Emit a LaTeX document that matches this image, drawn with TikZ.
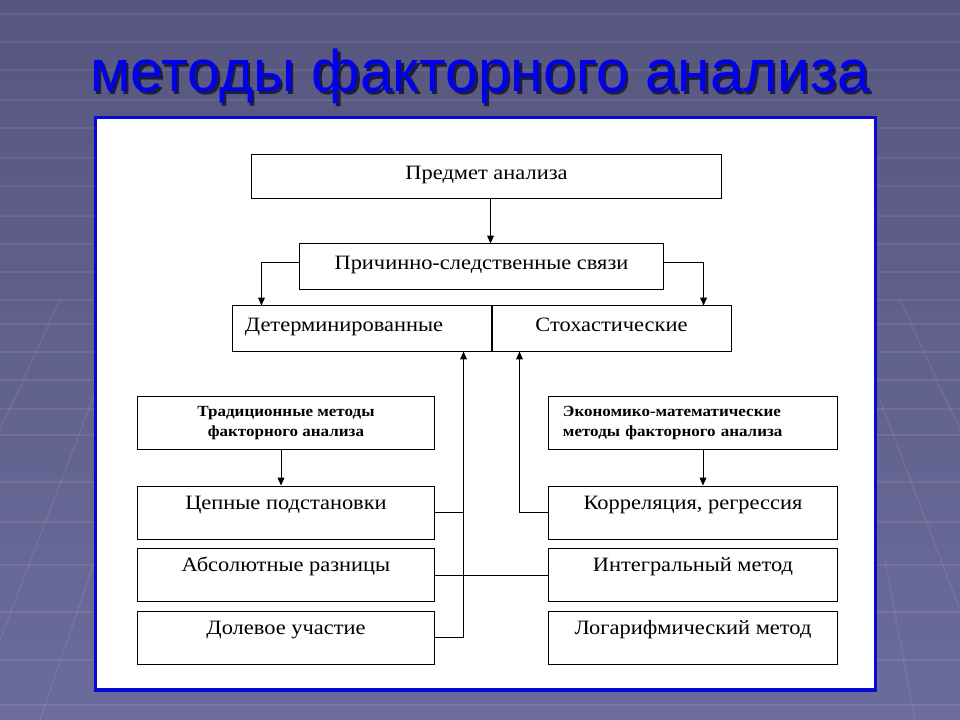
\documentclass[tikz,border=0pt]{standalone}
\usepackage{fontspec}
\setmainfont{Liberation Serif}
\newfontfamily\boxfont[FakeStretch=1.1]{Liberation Serif}
\newfontfamily\titlefont{Liberation Sans}
\usetikzlibrary{arrows.meta}

\definecolor{bgtop}{RGB}{86,86,126}
\definecolor{bgbot}{RGB}{108,108,156}
\definecolor{panelblue}{RGB}{8,8,215}
\definecolor{titleblue}{RGB}{0,0,238}
\definecolor{titleshade}{RGB}{28,28,60}

\begin{document}
\begin{tikzpicture}[x=0.025cm,y=-0.025cm,
    >={Triangle[length=5.6pt,width=4.8pt]}]

% slide background
\shade[top color=bgtop, bottom color=bgbot] (0,0) rectangle (960,720);
\useasboundingbox (0,0) rectangle (960,720);
\begin{scope}[white, opacity=0.08, line width=1pt]
    \foreach \y in {14,42,70,100,128,158,186,216,244,272,300,324,352,380,409,435,482,522,565,612,660,705}
        \draw (0,\y) -- (960,\y);
    \draw (60,300) -- (0,430);
    \draw (100,380) -- (0,640);
    \draw (95,560) -- (40,720);
    \draw (900,300) -- (960,430);
    \draw (880,400) -- (960,610);
    \draw (885,560) -- (915,720);
\end{scope}

% title
\node[text=titleshade, font=\titlefont\fontsize{41.8}{46}\selectfont, anchor=base]
    (titleshadow) at (482.5,94.5) {методы факторного анализа};
\node[text=titleblue, font=\titlefont\fontsize{41.8}{46}\selectfont, anchor=base]
    (title) at (480,92) {методы факторного анализа};

% panel
\draw[line width=0.0875cm, draw=panelblue, fill=white] (95.5,117.5) rectangle (875.5,690);

\begin{scope}[every node/.style={draw,line width=0.7pt,inner sep=0pt,
        font=\boxfont\fontsize{14.5}{16}\selectfont,text height=10pt,text depth=6pt}]
    \node[minimum width=11.725cm,minimum height=1.1cm] (pa) at (486.5,176.5) {Предмет анализа};
    \node[minimum width=9.075cm,minimum height=1.125cm] (pcs) at (481.5,266.5) {Причинно-следственные связи};

    \node[minimum width=6.475cm,minimum height=1.125cm,text width=5.875cm,align=left] (det) at (362.5,328.5) {Детерминированные};
    \node[minimum width=5.975cm,minimum height=1.125cm] (sto) at (611.5,328.5) {Стохастические};
\end{scope}

\begin{scope}[every node/.style={draw,line width=0.7pt,inner sep=0pt,
        font=\boxfont\fontsize{14.5}{16}\selectfont,text height=10pt,text depth=14.5pt,
        minimum height=1.325cm}]
    \node[minimum width=7.425cm] (cep) at (286,512.5) {Цепные подстановки};
    \node[minimum width=7.425cm] (abs) at (286,575) {Абсолютные разницы};
    \node[minimum width=7.425cm] (dol) at (286,637.5) {Долевое участие};

    \node[minimum width=7.2cm] (kor) at (693,512.5) {Корреляция, регрессия};
    \node[minimum width=7.2cm] (int) at (693,575) {Интегральный метод};
    \node[minimum width=7.2cm] (log) at (693,637.5) {Логарифмический метод};
\end{scope}

\begin{scope}[every node/.style={draw,line width=0.7pt,inner sep=0pt,
        font=\boxfont\bfseries\fontsize{11}{14.5}\selectfont,minimum height=1.325cm}]
    \node[minimum width=7.425cm,align=center] (trad) at (286,423) {Традиционные методы\\факторного анализа};
    \node[minimum width=7.2cm,text width=6.5cm,align=left] (eko) at (693,423) {Экономико-математические\\методы факторного анализа};
\end{scope}

\begin{scope}[line width=0.7pt]
    \draw[->] ([xshift=0.1cm]pa.south) -- ([xshift=0.1cm]pa.south |- pcs.north);
    \draw[->] ([yshift=0.1cm]pcs.west) -| ([xshift=0.725cm]det.north west);
    \draw[->] ([yshift=0.1cm]pcs.east) -| ([xshift=-0.7cm]sto.north east);

    \draw[->] ([xshift=-0.125cm]trad.south) -- ([xshift=-0.125cm]cep.north);
    \draw[->] ([xshift=0.25cm]eko.south) -- ([xshift=0.25cm]kor.north);

    \draw[->] (dol.east) -| ([xshift=-0.725cm]det.south east);
    \draw (cep.east) -- ++(28,0);
    \draw (abs.east) -- (int.west);
    \draw[->] (kor.west) -| ([xshift=0.7cm]sto.south west);
\end{scope}

\end{tikzpicture}
\end{document}
